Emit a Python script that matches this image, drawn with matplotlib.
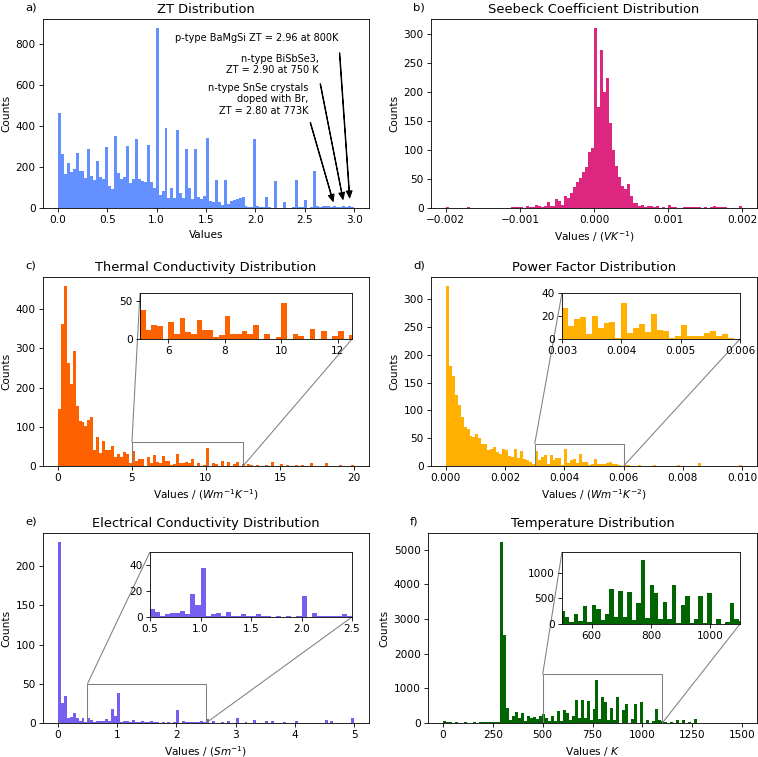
import matplotlib.pyplot as plt
import numpy as np
from mpl_toolkits.axes_grid1.inset_locator import mark_inset

# histogram counts (100 equal bins per panel)
zt_range = (0.0, 3.0)
zt_counts = [463, 262, 165, 222, 178, 190, 268, 180, 180, 148,
             290, 158, 138, 230, 150, 140, 298, 108, 93, 352,
             173, 140, 150, 303, 120, 142, 338, 140, 130, 128,
             308, 125, 96, 880, 65, 85, 392, 48, 100, 50,
             382, 75, 50, 290, 98, 45, 290, 55, 45, 60,
             340, 35, 30, 138, 30, 15, 135, 20, 35, 40,
             45, 50, 52, 8, 3, 3, 335, 10, 5, 3,
             55, 5, 2, 130, 2, 2, 30, 2, 2, 3,
             135, 5, 3, 40, 2, 3, 180, 8, 5, 8,
             8, 8, 3, 12, 3, 3, 12, 3, 12, 3]

seebeck_range = (-0.002, 0.002)
seebeck_counts = [2, 0, 0, 0, 0, 0, 0, 1, 0, 0,
                  0, 0, 0, 0, 0, 0, 0, 0, 0, 0,
                  0, 0, 1, 1, 1, 1, 0, 4, 2, 1,
                  5, 4, 2, 3, 10, 3, 3, 15, 12, 5,
                  20, 18, 25, 36, 45, 52, 62, 70, 96, 103,
                  310, 174, 272, 200, 224, 147, 100, 73, 53, 38,
                  33, 41, 20, 8, 8, 4, 5, 2, 3, 3,
                  1, 4, 0, 2, 0, 5, 2, 1, 0, 0,
                  1, 1, 1, 1, 2, 2, 0, 1, 0, 2,
                  3, 2, 1, 1, 1, 0, 0, 0, 0, 3]

thermal_range = (0.0, 20.0)
thermal_counts = [146, 362, 459, 262, 210, 292, 152, 116, 112, 103,
                  118, 125, 40, 75, 32, 65, 42, 40, 50, 22,
                  30, 22, 35, 30, 8, 38, 12, 18, 17, 0,
                  22, 7, 27, 9, 7, 25, 12, 12, 2, 5,
                  30, 7, 7, 11, 7, 18, 0, 7, 0, 2,
                  47, 0, 7, 4, 0, 13, 0, 10, 0, 4,
                  11, 0, 5, 0, 5, 2, 0, 3, 0, 0,
                  3, 0, 10, 0, 0, 4, 0, 3, 0, 0,
                  3, 0, 2, 0, 0, 8, 0, 1, 0, 0,
                  7, 0, 1, 0, 0, 3, 0, 0, 0, 3]

power_range = (0.0, 0.01)
power_counts = [324, 180, 162, 127, 109, 88, 70, 66, 54, 52,
                58, 50, 40, 40, 28, 30, 35, 26, 22, 31,
                29, 18, 16, 30, 14, 27, 12, 10, 7, 4,
                27, 11, 17, 19, 4, 20, 10, 14, 15, 1,
                31, 5, 10, 13, 6, 22, 8, 7, 1, 3,
                12, 3, 3, 3, 5, 7, 3, 4, 1, 0,
                1, 1, 0, 0, 0, 1, 0, 0, 0, 0,
                2, 0, 0, 0, 0, 0, 0, 0, 1, 0,
                0, 0, 0, 0, 0, 5, 0, 0, 0, 0,
                0, 0, 0, 0, 0, 0, 0, 0, 0, 2]

elec_range = (0.0, 5.0)
elec_counts = [231, 25, 35, 7, 8, 13, 6, 2, 6, 1,
               6, 4, 1, 2, 3, 3, 5, 2, 18, 9,
               38, 1, 2, 3, 1, 4, 1, 1, 2, 1,
               1, 2, 1, 1, 0, 1, 0, 1, 0, 1,
               16, 0, 3, 1, 1, 1, 1, 1, 2, 1,
               5, 0, 2, 0, 0, 1, 0, 2, 0, 0,
               7, 0, 0, 1, 0, 0, 4, 0, 0, 0,
               2, 0, 2, 0, 0, 0, 1, 0, 0, 0,
               2, 0, 0, 0, 0, 0, 0, 0, 0, 0,
               4, 0, 2, 0, 0, 0, 0, 0, 0, 7]

temp_range = (0.0, 1500.0)
temp_counts = [60, 15, 35, 10, 40, 10, 8, 20, 5, 10,
               30, 8, 15, 30, 25, 20, 30, 15, 40, 5220,
               2550, 430, 100, 190, 330, 150, 300, 60, 200, 130,
               180, 120, 200, 260, 143, 45, 188, 65, 350, 45,
               370, 285, 78, 195, 675, 130, 650, 130, 630, 78,
               415, 1250, 110, 760, 600, 91, 430, 91, 760, 13,
               365, 535, 13, 104, 545, 13, 600, 0, 91, 0,
               45, 415, 91, 50, 20, 0, 30, 0, 100, 0,
               90, 0, 20, 0, 110, 0, 0, 0, 0, 0,
               0, 0, 0, 0, 0, 0, 0, 0, 0, 0]

titles = ["ZT Distribution", "Seebeck Coefficient Distribution",
          "Thermal Conductivity Distribution", "Power Factor Distribution",
          "Electrical Conductivity Distribution", "Temperature Distribution"]
xlabels = ["Values", "Values / ($VK^{-1}$)", "Values / ($Wm^{-1}K^{-1}$)",
           "Values / ($Wm^{-1}K^{-2}$)", "Values / ($Sm^{-1}$)", "Values / $K$"]
letters = ["a)", "b)", "c)", "d)", "e)", "f)"]
colors = ["#648FFF", "#DC267F", "#FE6100", "#FFB000", "#785EF0", "darkgreen"]
xticks = [[0, 0.5, 1.0, 1.5, 2.0, 2.5, 3.0],
          [-0.002, -0.001, 0.0, 0.001, 0.002],
          [0, 5, 10, 15, 20],
          [0.0, 0.002, 0.004, 0.006, 0.008, 0.010],
          [0, 1, 2, 3, 4, 5],
          [0, 250, 500, 750, 1000, 1250, 1500]]

zt_notes = ["p-type BaMgSi ZT = 2.96 at 800K",
            "n-type BiSbSe3,\nZT = 2.90 at 750 K",
            "n-type SnSe crystals\ndoped with Br,\nZT = 2.80 at 773K"]
zt_note_values = [2.96, 2.90, 2.80]

plt.rcParams["axes.titlesize"] = 12.3


def draw_hist(ax, counts, value_range, color):
    edges = np.linspace(value_range[0], value_range[1], len(counts) + 1)
    centers = (edges[:-1] + edges[1:]) / 2
    ax.hist(centers, bins=edges, weights=counts, color=color)


W, H = 758, 757
fig = plt.figure(figsize=(W / 75.8, H / 75.8), dpi=75.8)


def px_axes(l, t, w, h):
    return fig.add_axes([l / W, 1 - (t + h) / H, w / W, h / H])


# axes boxes in pixels: left, top, width, height
boxes = [(43, 19, 326, 189), (431, 19, 326, 189),
         (43, 277, 326, 189), (431, 277, 326, 189),
         (43, 533, 326, 190), (428, 533, 329, 190)]
axes = [px_axes(*b) for b in boxes]

data = [(zt_counts, zt_range), (seebeck_counts, seebeck_range),
        (thermal_counts, thermal_range), (power_counts, power_range),
        (elec_counts, elec_range), (temp_counts, temp_range)]

for i, ax in enumerate(axes):
    counts, rng = data[i]
    draw_hist(ax, counts, rng, colors[i])
    ax.set_xticks(xticks[i])
    ax.set_title(titles[i])
    ax.set_xlabel(xlabels[i])
    ax.set_ylabel("Counts")
    ax.text(-0.055, 1.045, letters[i], transform=ax.transAxes, fontsize=11)

# annotations on ZT
ax = axes[0]
text_pos = [(2.845, 833), (2.64, 702), (2.537, 531)]
for note, val, pos in zip(zt_notes, zt_note_values, text_pos):
    ax.annotate(note, xy=(val, 10), xytext=pos, ha="right", va="center",
                fontsize=9.3,
                arrowprops=dict(facecolor="black", shrink=0.05, width=0.4,
                                headwidth=5.5, headlength=6.5))

# zoomed insets: parent index, pixel box, xlim, ylim, yticks
insets = [
    (2, (140, 293, 212, 46), (5, 12.5), (0, 60), [0, 50]),
    (3, (562, 293, 178, 46), (0.003, 0.006), (0, 40), [0, 20, 40]),
    (4, (150, 552, 202, 65), (0.5, 2.5), (0, 50), [0, 20, 40]),
    (5, (562, 552, 178, 72), (500, 1100), (0, 1400), [0, 500, 1000]),
]
for idx, box, xl, yl, yt in insets:
    ax = axes[idx]
    counts, rng = data[idx]
    axins = px_axes(*box)
    draw_hist(axins, counts, rng, colors[idx])
    axins.set_xlim(xl)
    axins.set_ylim(yl)
    axins.set_yticks(yt)
    mark_inset(ax, axins, loc1=2, loc2=4, fc="none", ec="0.5")

fig.savefig("out.png", dpi=75.8)
